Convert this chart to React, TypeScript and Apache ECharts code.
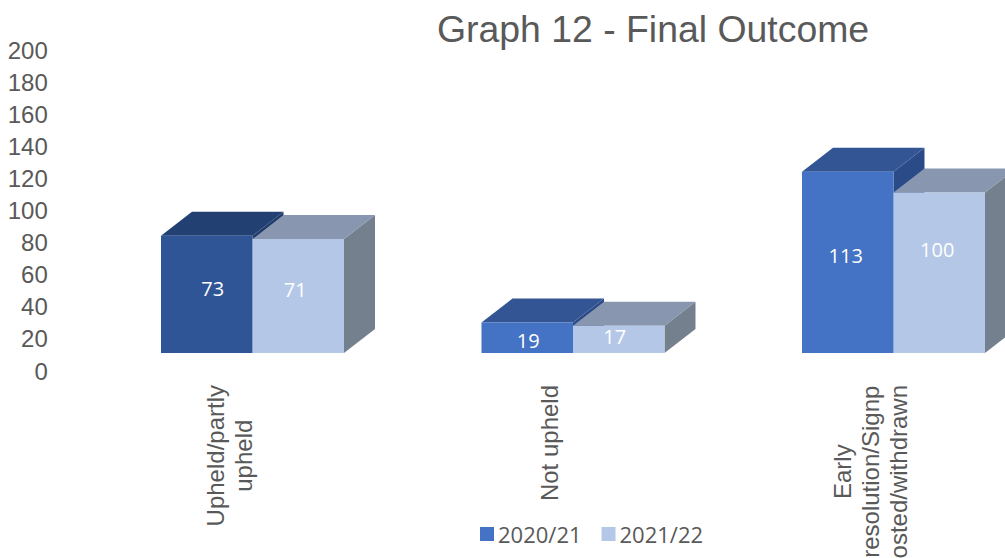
import React, { useEffect, useRef } from "react";
import * as echarts from "echarts";

const categories = ["Upheld/partly\nupheld", "Not upheld", "Early\nresolution/Signp\nosted/withdrawn"];
const seriesNames = ["2020/21", "2021/22"];
const values2020 = [73, 19, 113];
const values2021 = [71, 17, 100];

const frontA = ["#2F5597", "#4472C4", "#4472C4"];
const topA = ["#234073", "#335593", "#335593"];
const sideA = ["#1F3A6B", "#2A4B87", "#2A4B87"];
const frontB = ["#B4C7E7", "#B4C7E7", "#B4C7E7"];
const topB = ["#8897AF", "#8897AF", "#8897AF"];
const sideB = ["#75808F", "#75808F", "#75808F"];

const labelOffsetsA = [[6, -6], [1, 3], [-2, -7]];
const labelOffsetsB = [[-3, -7], [-4, -3], [-2, -23]];

const BAR_RATIO = 0.2855;
const SHIFT_X = 23.5;
const SHIFT_Y = -18;
const DEPTH_X = 31;
const DEPTH_Y = -24;

function makeRender(side: number, front: string[], top: string[], right: string[], offs: number[][]) {
  return (_params: any, api: any) => {
    const idx = api.value(0);
    const val = api.value(1);
    const base = api.coord([idx, 0]);
    const head = api.coord([idx, val]);
    const w = api.size([1, 0])[0] * BAR_RATIO;
    const x0 = base[0] + SHIFT_X + (side === 0 ? -w : 0);
    const x1 = x0 + w;
    const yb = base[1] + SHIFT_Y;
    const yt = head[1] + SHIFT_Y;
    return {
      type: "group",
      children: [
        {
          type: "polygon",
          shape: { points: [[x1, yt], [x1 + DEPTH_X, yt + DEPTH_Y], [x1 + DEPTH_X, yb + DEPTH_Y], [x1, yb]] },
          style: { fill: right[idx] },
        },
        {
          type: "polygon",
          shape: { points: [[x0, yt], [x1, yt], [x1 + DEPTH_X, yt + DEPTH_Y], [x0 + DEPTH_X, yt + DEPTH_Y]] },
          style: { fill: top[idx] },
        },
        {
          type: "rect",
          shape: { x: x0, y: yt, width: w, height: yb - yt },
          style: { fill: front[idx] },
        },
        {
          type: "text",
          style: {
            text: String(val),
            x: (x0 + x1) / 2 + offs[idx][0],
            y: (yt + yb) / 2 + offs[idx][1],
            align: "center",
            verticalAlign: "middle",
            fill: "#FFFFFF",
            font: '20px "Open Sans"',
          },
        },
      ],
    };
  };
}

export default function App() {
  const ref = useRef<HTMLDivElement>(null);
  useEffect(() => {
    document.body.style.margin = "0";
    const chart = echarts.init(ref.current!, null, { renderer: "svg" });
    chart.setOption({
      animation: false,
      title: {
        text: "Graph 12 - Final Outcome",
        left: 648,
        top: 5,
        textAlign: "center",
        textStyle: { color: "#595959", fontFamily: "Liberation Sans", fontSize: 37.4, fontWeight: "normal" },
      },
      legend: {
        left: 475,
        top: 518,
        icon: "rect",
        itemWidth: 14,
        itemHeight: 14,
        itemGap: 20,
        data: seriesNames,
        textStyle: { color: "#595959", fontFamily: "Open Sans", fontSize: 22, padding: [0, 0, 0, -1] },
      },
      grid: { left: 68.75, top: 50, height: 321, width: 961.5, containLabel: false, outerBoundsMode: "none" },
      xAxis: {
        type: "category",
        data: categories,
        axisLine: { show: false },
        axisTick: { show: false },
        axisLabel: {
          interval: 0,
          rotate: 90,
          margin: 14,
          color: "#595959",
          fontFamily: "Liberation Sans",
          fontSize: 24,
          lineHeight: 28,
          formatter: (v: string) => v.split("\n").map((l) => `{c|${l}}`).join("\n"),
          rich: {
            c: { align: "center", color: "#595959", fontFamily: "Liberation Sans", fontSize: 24, lineHeight: 28 },
          },
        },
      },
      yAxis: {
        type: "value",
        min: 0,
        max: 200,
        interval: 20,
        axisLine: { show: false },
        axisTick: { show: false },
        splitLine: { show: false },
        axisLabel: { margin: 21, color: "#595959", fontFamily: "Liberation Sans", fontSize: 24, padding: [0, 0, 2, 0] },
      },
      series: [
        {
          name: seriesNames[0],
          type: "custom",
          clip: false,
          itemStyle: { color: "#4472C4" },
          encode: { x: 0, y: 1 },
          data: values2020.map((v, i) => [i, v]),
          renderItem: makeRender(0, frontA, topA, sideA, labelOffsetsA),
        },
        {
          name: seriesNames[1],
          type: "custom",
          clip: false,
          itemStyle: { color: "#B4C7E7" },
          encode: { x: 0, y: 1 },
          data: values2021.map((v, i) => [i, v]),
          renderItem: makeRender(1, frontB, topB, sideB, labelOffsetsB),
        },
      ],
    });
    return () => chart.dispose();
  }, []);
  return <div ref={ref} style={{ position: "absolute", left: 0, top: 0, width: 1005, height: 558, overflow: "hidden" }} />;
}
